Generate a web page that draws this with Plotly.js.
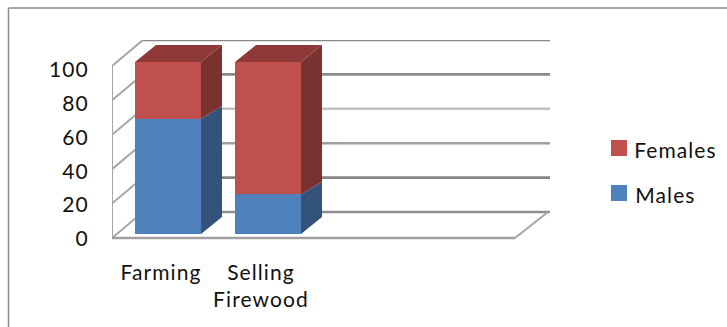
<!DOCTYPE html>
<html>
<head>
<meta charset="utf-8">
<script src="https://cdn.plot.ly/plotly-3.0.1.min.js"></script>
<style>
html,body{margin:0;padding:0;background:#fff;overflow:hidden}
#chart{width:727px;height:327px}
#chart text{letter-spacing:1.1px}
</style>
</head>
<body>
<div id="chart"></div>
<script>
// Stacked shares per activity
const categories = ['Farming', 'Selling<br>Firewood'];
const males = [67, 23];
const females = [33, 77];
const yTicks = [0, 20, 40, 60, 80, 100];

// Pseudo-3D depth, in axis units
const barWidth = 0.66;
const barDepthX = 0.21, barDepthY = 9.9, dividerRiseY = 7.4;
const wallBackX = 0.31, wallBackY = 12.8, wallFrontX = -0.07, wallFrontY = -2.3;
const tickScale = 0.985, tickDrop = 0.6;
const slotEnd = 3.47;

const W = 727, H = 327;
// Axis windows: 1 x unit = 100px, 1 y unit = 1.72px, zero sits at 234px
const xRange = [-0.56, 3.82];
const yRange = [-5, 112.8];
const px = {l: 112, r: 112 + (xRange[1] - xRange[0]) * 100, b: 234 - yRange[0] * 1.72, t: 234 - yRange[1] * 1.72};

const blue = '#4f81bd', red = '#c0504d';
const blueSide = '#33537c', redSide = '#7a3230', redTop = '#8f3a38';
const gridColors = ['#8f8f8f', '#858585', '#a0a0a0', '#c2c2c2', '#8a8a8a', '#888888'];
const wallColor = '#a6a6a6';

function poly(xs, ys, color) {
  return {type: 'scatter', mode: 'lines', x: xs.concat(xs[0]), y: ys.concat(ys[0]),
    fill: 'toself', fillcolor: color, line: {width: 0, color: color},
    hoverinfo: 'skip', showlegend: false};
}
// Wall lines sit in the layer under the bars
function wallLine(x0, y0, x1, y1, color, width) {
  return {type: 'line', xref: 'x', yref: 'y', layer: 'below', x0, y0, x1, y1, line: {color, width}};
}

const wallShapes = [];
yTicks.forEach((v, i) => {
  wallShapes.push(wallLine(xRange[0] + wallBackX, v + wallBackY, xRange[1], v + wallBackY, gridColors[i], 2.6));
  wallShapes.push(wallLine(xRange[0], v + wallFrontY, xRange[0] + wallBackX, v + wallBackY, wallColor, 2));
});
wallShapes.push(wallLine(xRange[0], wallFrontY, xRange[0], 100 + wallFrontY, wallColor, 2));
wallShapes.push(wallLine(xRange[0], wallFrontY, slotEnd, wallFrontY, '#a0a0a0', 2.6));
wallShapes.push(wallLine(slotEnd, wallFrontY, xRange[1] - 0.02, wallBackY, wallColor, 2));

const traces = [];
// Front faces are real bar traces; depth faces follow the same values
const xs = categories.map((_, i) => i);
xs.forEach((x, i) => {
  const r = x + barWidth / 2, l = x - barWidth / 2;
  const m = males[i], t = males[i] + females[i];
  traces.push(poly([r, r + barDepthX, r + barDepthX, r], [0, barDepthY, m + dividerRiseY, m], blueSide));
  traces.push(poly([r, r + barDepthX, r + barDepthX, r], [m, m + dividerRiseY, t + barDepthY, t], redSide));
  traces.push(poly([l, r, r + barDepthX, l + barDepthX], [t, t, t + barDepthY, t + barDepthY], redTop));
});
traces.push({type: 'bar', name: 'Males', x: xs, y: males, width: barWidth, marker: {color: blue, line: {width: 0}}, showlegend: false});
traces.push({type: 'bar', name: 'Females', x: xs, y: females, width: barWidth, marker: {color: red, line: {width: 0}}, showlegend: false});

const font = {family: 'Lato, "Noto Sans", sans-serif', size: 21, color: '#111'};

const layout = {
  width: W, height: H,
  margin: {l: 0, r: 0, t: 0, b: 0},
  paper_bgcolor: '#fff', plot_bgcolor: 'rgba(0,0,0,0)',
  barmode: 'stack', showlegend: false,
  font: font,
  xaxis: {
    domain: [px.l / W, px.r / W], range: xRange, showgrid: false, zeroline: false, showline: false,
    tickmode: 'array', tickvals: xs.map(x => x + wallFrontX), ticktext: categories,
    ticks: 'outside', ticklen: 11, tickcolor: 'rgba(0,0,0,0)', tickfont: font, tickangle: 0
  },
  yaxis: {
    domain: [1 - px.b / H, 1 - px.t / H], range: yRange, showgrid: false, zeroline: false, showline: false,
    tickmode: 'array', tickvals: yTicks.map(v => v * tickScale + wallFrontY - tickDrop), ticktext: yTicks.map(String),
    ticks: 'outside', ticklen: 18, tickcolor: 'rgba(0,0,0,0)', tickfont: font
  },
  shapes: wallShapes.concat([
    // Chart frame, open toward the lower right
    {type: 'line', xref: 'paper', yref: 'paper', x0: 8.5 / W, x1: 1, y0: 1 - 8 / H, y1: 1 - 8 / H, line: {color: '#8a8a8a', width: 1.5}},
    {type: 'line', xref: 'paper', yref: 'paper', x0: 8.5 / W, x1: 8.5 / W, y0: 1 - 8 / H, y1: 0, line: {color: '#8a8a8a', width: 1.5}},
    // Legend swatches
    {type: 'rect', xref: 'paper', yref: 'paper', x0: 611 / W, x1: 627 / W, y0: 1 - 156 / H, y1: 1 - 140 / H, fillcolor: red, line: {width: 0}},
    {type: 'rect', xref: 'paper', yref: 'paper', x0: 611 / W, x1: 627 / W, y0: 1 - 201 / H, y1: 1 - 185 / H, fillcolor: blue, line: {width: 0}}
  ]),
  annotations: [
    {xref: 'paper', yref: 'paper', x: 636 / W, y: 1 - 149 / H, text: 'Females', showarrow: false, xanchor: 'left', yanchor: 'middle', font: font},
    {xref: 'paper', yref: 'paper', x: 636 / W, y: 1 - 194 / H, text: 'Males', showarrow: false, xanchor: 'left', yanchor: 'middle', font: font}
  ]
};

Plotly.newPlot('chart', traces, layout, {displayModeBar: false, staticPlot: true});
</script>
</body>
</html>
